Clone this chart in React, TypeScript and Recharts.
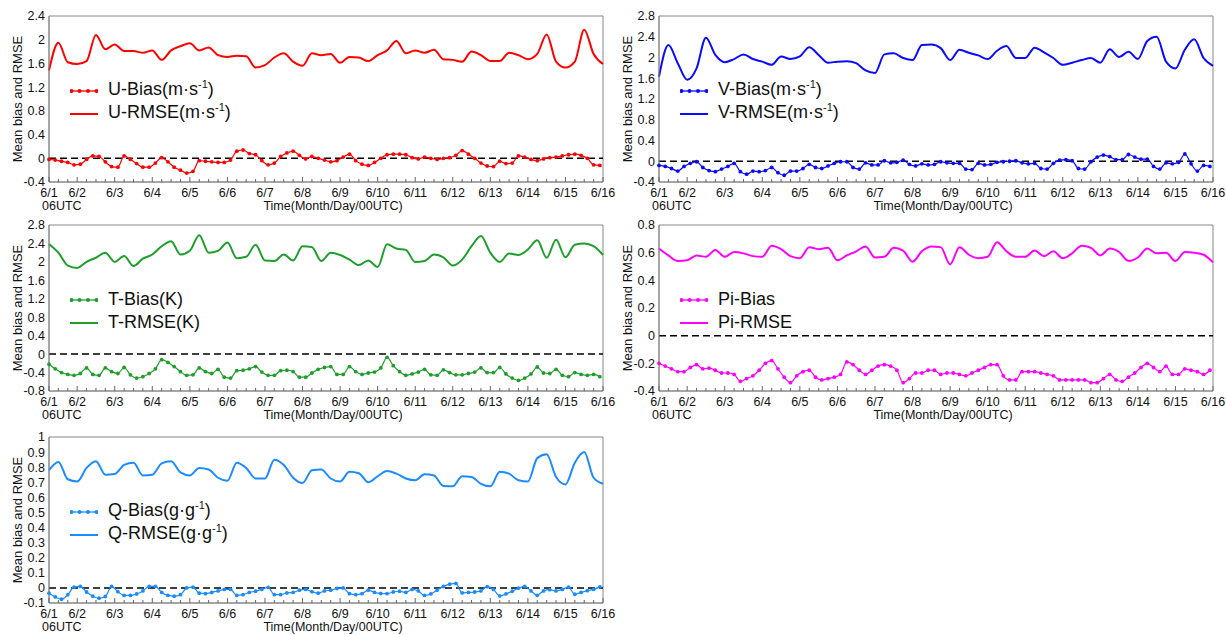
import React from "react";
import { LineChart, Line, XAxis, YAxis, ReferenceLine, ReferenceArea, Legend, Label } from "recharts";

const FONT = '"Liberation Sans", Arial, sans-serif';

// x axis: hours since 6/1 00UTC
const dayLabels = ["6/1", "6/2", "6/3", "6/4", "6/5", "6/6", "6/7", "6/8", "6/9", "6/10", "6/11", "6/12", "6/13", "6/14", "6/15", "6/16"];
const dayHours = [6, 24, 48, 72, 96, 120, 144, 168, 192, 216, 240, 264, 288, 312, 336, 360];
const stepHours = Array.from({ length: 60 }, (_, i) => 6 + 6 * i); // RMSE every 6h
const biasStep = 4; // bias markers every 4h

// U wind
const uRmse = [1.48, 1.95, 1.62, 1.59, 1.64, 2.08, 1.84, 1.92, 1.81, 1.81, 1.78, 1.82, 1.66, 1.82, 1.89, 1.94, 1.82, 1.87, 1.74, 1.71, 1.73, 1.72, 1.53, 1.57, 1.7, 1.77, 1.63, 1.56, 1.77, 1.74, 1.76, 1.61, 1.71, 1.7, 1.64, 1.74, 1.82, 1.98, 1.77, 1.82, 1.78, 1.83, 1.67, 1.66, 1.63, 1.8, 1.74, 1.64, 1.64, 1.78, 1.74, 1.67, 1.76, 2.09, 1.63, 1.53, 1.63, 2.17, 1.76, 1.59];
const uBias = [-0.02, -0.03, -0.05, -0.07, -0.11, -0.1, -0.02, 0.04, 0.03, -0.06, -0.14, -0.15, 0.04, -0.02, -0.09, -0.15, -0.15, -0.08, 0.01, -0.06, -0.15, -0.2, -0.25, -0.22, -0.04, -0.05, -0.06, -0.07, -0.07, -0.03, 0.12, 0.14, 0.08, 0.06, -0.04, -0.11, -0.08, 0.03, 0.09, 0.12, 0.05, -0.01, 0.03, 0.0, -0.03, -0.06, -0.04, 0.02, 0.07, -0.04, -0.1, -0.12, -0.07, 0.0, 0.06, 0.07, 0.07, 0.06, 0.01, -0.01, 0.02, 0.0, -0.02, 0.0, 0.01, 0.05, 0.13, 0.07, 0.0, -0.08, -0.13, -0.14, -0.05, -0.09, -0.08, 0.04, 0.02, -0.02, -0.04, -0.01, 0.01, 0.02, 0.04, 0.06, 0.07, 0.05, 0.0, -0.11, -0.12];
const uTicks = [-0.4, 0, 0.4, 0.8, 1.2, 1.6, 2, 2.4];

// V wind
const vRmse = [1.63, 2.24, 1.89, 1.57, 1.79, 2.38, 2.05, 1.91, 1.97, 2.06, 1.97, 1.92, 1.86, 2.02, 1.97, 2.02, 2.2, 2.05, 1.9, 1.92, 1.93, 1.89, 1.75, 1.7, 2.06, 2.08, 1.99, 1.95, 2.24, 2.25, 2.18, 1.95, 2.15, 2.09, 2.04, 1.97, 2.13, 2.22, 1.99, 1.99, 2.19, 2.1, 1.99, 1.86, 1.9, 1.95, 1.99, 1.9, 2.16, 2.01, 2.11, 1.97, 2.32, 2.4, 1.92, 1.79, 2.15, 2.35, 1.99, 1.84];
const vBias = [-0.08, -0.1, -0.14, -0.19, -0.1, -0.04, -0.01, -0.12, -0.18, -0.2, -0.15, -0.1, -0.04, -0.2, -0.25, -0.19, -0.2, -0.18, -0.12, -0.22, -0.27, -0.19, -0.19, -0.14, -0.06, -0.12, -0.14, -0.09, -0.04, -0.01, -0.01, -0.12, -0.15, -0.03, -0.07, -0.07, 0.01, -0.03, -0.02, 0.02, -0.06, -0.09, -0.05, -0.07, -0.06, -0.01, -0.03, -0.04, -0.04, -0.15, -0.16, -0.04, -0.07, -0.06, -0.02, -0.01, 0.0, 0.01, -0.03, -0.05, -0.04, -0.14, -0.15, -0.04, 0.02, 0.03, 0.01, -0.14, -0.15, -0.01, 0.08, 0.12, 0.09, 0.03, 0.03, 0.13, 0.08, 0.04, 0.04, -0.1, -0.15, -0.03, -0.05, -0.02, 0.14, -0.05, -0.19, -0.08, -0.1];
const vTicks = [-0.4, 0, 0.4, 0.8, 1.2, 1.6, 2, 2.4, 2.8];

// Temperature
const tRmse = [2.39, 2.2, 1.92, 1.87, 2.0, 2.09, 2.2, 2.0, 2.13, 1.91, 2.07, 2.16, 2.34, 2.45, 2.16, 2.24, 2.58, 2.2, 2.24, 2.42, 2.08, 2.11, 2.37, 2.03, 2.02, 2.16, 2.03, 2.34, 2.32, 2.02, 2.2, 2.15, 2.05, 1.93, 2.03, 1.89, 2.38, 2.29, 2.26, 2.0, 2.02, 2.16, 2.1, 1.92, 2.05, 2.34, 2.56, 2.2, 2.0, 2.18, 2.15, 2.27, 2.47, 2.09, 2.48, 2.1, 2.37, 2.4, 2.34, 2.15];
const tBias = [-0.22, -0.32, -0.4, -0.44, -0.46, -0.42, -0.3, -0.44, -0.46, -0.3, -0.38, -0.42, -0.29, -0.45, -0.52, -0.49, -0.42, -0.32, -0.12, -0.18, -0.27, -0.38, -0.46, -0.45, -0.3, -0.38, -0.42, -0.33, -0.5, -0.52, -0.36, -0.35, -0.32, -0.27, -0.39, -0.46, -0.46, -0.36, -0.35, -0.38, -0.5, -0.5, -0.41, -0.33, -0.29, -0.27, -0.44, -0.44, -0.27, -0.38, -0.44, -0.41, -0.39, -0.3, -0.07, -0.25, -0.38, -0.46, -0.43, -0.39, -0.33, -0.45, -0.46, -0.34, -0.4, -0.45, -0.45, -0.42, -0.39, -0.3, -0.4, -0.4, -0.29, -0.43, -0.52, -0.57, -0.52, -0.43, -0.28, -0.41, -0.42, -0.33, -0.46, -0.49, -0.4, -0.44, -0.46, -0.44, -0.49];
const tTicks = [-0.8, -0.4, 0, 0.4, 0.8, 1.2, 1.6, 2, 2.4, 2.8];

// Pi (Exner)
const piRmse = [0.63, 0.58, 0.54, 0.545, 0.58, 0.57, 0.62, 0.57, 0.605, 0.595, 0.575, 0.57, 0.65, 0.625, 0.575, 0.56, 0.64, 0.625, 0.635, 0.545, 0.58, 0.61, 0.645, 0.565, 0.57, 0.635, 0.615, 0.535, 0.61, 0.645, 0.64, 0.515, 0.64, 0.585, 0.56, 0.57, 0.675, 0.61, 0.57, 0.57, 0.615, 0.575, 0.61, 0.56, 0.595, 0.65, 0.635, 0.58, 0.63, 0.605, 0.54, 0.565, 0.63, 0.595, 0.6, 0.54, 0.605, 0.6, 0.585, 0.53];
const piBias = [-0.2, -0.22, -0.24, -0.26, -0.26, -0.23, -0.21, -0.24, -0.235, -0.25, -0.27, -0.27, -0.28, -0.33, -0.31, -0.29, -0.25, -0.2, -0.18, -0.24, -0.3, -0.34, -0.29, -0.26, -0.25, -0.3, -0.32, -0.31, -0.3, -0.28, -0.19, -0.21, -0.25, -0.28, -0.25, -0.22, -0.21, -0.22, -0.25, -0.34, -0.31, -0.27, -0.27, -0.25, -0.25, -0.28, -0.27, -0.27, -0.28, -0.29, -0.27, -0.25, -0.23, -0.21, -0.21, -0.29, -0.32, -0.32, -0.26, -0.26, -0.26, -0.27, -0.28, -0.29, -0.32, -0.32, -0.32, -0.32, -0.32, -0.34, -0.34, -0.31, -0.28, -0.32, -0.33, -0.3, -0.27, -0.23, -0.2, -0.23, -0.26, -0.22, -0.28, -0.28, -0.24, -0.25, -0.26, -0.28, -0.25];
const piTicks = [-0.4, -0.2, 0, 0.2, 0.4, 0.6, 0.8];

// Humidity
const qRmse = [0.78, 0.835, 0.72, 0.705, 0.795, 0.84, 0.75, 0.755, 0.815, 0.83, 0.745, 0.75, 0.825, 0.84, 0.765, 0.745, 0.795, 0.785, 0.73, 0.71, 0.83, 0.795, 0.725, 0.725, 0.85, 0.815, 0.73, 0.695, 0.78, 0.785, 0.725, 0.705, 0.77, 0.76, 0.7, 0.74, 0.775, 0.757, 0.725, 0.713, 0.753, 0.745, 0.675, 0.673, 0.74, 0.735, 0.69, 0.673, 0.77, 0.757, 0.713, 0.705, 0.86, 0.885, 0.735, 0.686, 0.83, 0.9, 0.73, 0.69];
const qBias = [-0.035, -0.06, -0.075, -0.045, 0.005, 0.01, -0.027, -0.055, -0.068, -0.057, 0.01, -0.025, -0.05, -0.05, -0.04, -0.02, 0.01, 0.01, -0.03, -0.05, -0.055, -0.045, 0.0, 0.005, -0.035, -0.038, -0.03, -0.02, -0.01, -0.01, -0.05, -0.045, -0.03, -0.022, -0.01, 0.004, -0.045, -0.045, -0.033, -0.03, -0.015, -0.01, -0.025, -0.035, -0.02, -0.015, -0.004, 0.0, -0.038, -0.045, -0.038, -0.015, -0.03, -0.037, -0.038, -0.027, -0.022, -0.03, -0.01, -0.02, -0.05, -0.04, -0.015, 0.01, 0.025, 0.03, -0.033, -0.03, -0.027, -0.02, 0.008, -0.01, -0.053, -0.04, -0.022, -0.002, 0.01, -0.02, -0.049, -0.02, -0.012, -0.02, -0.01, 0.005, -0.042, -0.03, -0.018, -0.01, 0.007];
const qTicks = [-0.1, 0, 0.1, 0.2, 0.3, 0.4, 0.5, 0.6, 0.7, 0.8, 0.9, 1];

const PLOT_W = 554;
const CHART_H = 214;

function XTick(props: any) {
  const { x, y, payload } = props;
  const h = payload.value;
  const k = dayHours.indexOf(h);
  const major = k >= 0;
  return (
    <g>
      <line x1={x} x2={x} y1={y} y2={y - (major ? 5 : 3)} stroke="#666" strokeWidth={1} />
      {major && (
        <text x={x} y={y + 14.5} textAnchor="middle" fontSize={12.5} fill="#111" fontFamily={FONT}>
          {dayLabels[k]}
        </text>
      )}
      {h === 6 && (
        <text x={x - 7} y={y + 28} textAnchor="start" fontSize={12.5} fill="#111" fontFamily={FONT}>
          06UTC
        </text>
      )}
    </g>
  );
}

function Sup({ children }: { children: React.ReactNode }) {
  return <span style={{ fontSize: 11, position: "relative", top: -7 }}>{children}</span>;
}

function LegendBox({ color, biasName, rmseName }: any) {
  const row = { display: "flex", alignItems: "center", height: 23 };
  return (
    <div style={{ fontFamily: FONT, fontSize: 18, color: "#111", lineHeight: "23px", whiteSpace: "nowrap" }}>
      <div style={row}>
        <svg width={28} height={12}>
          <line x1={0} x2={28} y1={6} y2={6} stroke={color} strokeWidth={1.3} />
          {[1.5, 9.5, 18, 26.5].map((cx) => (
            <circle key={cx} cx={cx} cy={6} r={2} fill={color} />
          ))}
        </svg>
        <span style={{ marginLeft: 10 }}>{biasName}</span>
      </div>
      <div style={row}>
        <svg width={28} height={12}>
          <line x1={0} x2={28} y1={6} y2={6} stroke={color} strokeWidth={2} />
        </svg>
        <span style={{ marginLeft: 10 }}>{rmseName}</span>
      </div>
    </div>
  );
}

type PanelProps = {
  left: number;
  top: number;
  width: number;
  ticks: number[];
  color: string;
  rmse: number[];
  bias: number[];
  biasName: React.ReactNode;
  rmseName: React.ReactNode;
};

function Panel({ left, top, width, ticks, color, rmse, bias, biasName, rmseName }: PanelProps) {
  const rmseData = rmse.map((v, i) => ({ h: stepHours[i], v }));
  const biasData = bias.map((v, j) => ({ h: 6 + biasStep * j, v }));
  const lo = ticks[0];
  const hi = ticks[ticks.length - 1];
  return (
    <div style={{ position: "absolute", left, top }}>
      <LineChart
        width={width}
        height={CHART_H}
        margin={{ top: 16, right: width - 49 - PLOT_W, left: 0, bottom: 2 }}
      >
        <XAxis
          type="number"
          dataKey="h"
          domain={[6, 360]}
          ticks={stepHours}
          interval={0}
          tickSize={0}
          tickMargin={0}
          tickLine={false}
          axisLine={{ stroke: "#888" }}
          height={30}
          tick={<XTick />}
        >
          <Label
            content={() => (
              <text x={49 + PLOT_W / 2 + 7} y={209.5} textAnchor="middle" fontSize={12.5} fill="#111" fontFamily={FONT}>
                Time(Month/Day/00UTC)
              </text>
            )}
          />
        </XAxis>
        <YAxis
          type="number"
          domain={[lo, hi]}
          ticks={ticks}
          interval={0}
          width={49}
          tickSize={0}
          tickMargin={4}
          tickLine={false}
          axisLine={{ stroke: "#888" }}
          tick={{ fontSize: 12.5, fill: "#111", fontFamily: FONT }}
          tickFormatter={(v: number) => String(v)}
        >
          <Label
            content={() => (
              <text
                x={22}
                y={99}
                transform="rotate(-90, 22, 99)"
                textAnchor="middle"
                fontSize={13}
                fill="#111"
                fontFamily={FONT}
              >
                Mean bias and RMSE
              </text>
            )}
          />
        </YAxis>
        <ReferenceArea x1={6} x2={360} y1={lo} y2={hi} fill="none" stroke="#888" strokeWidth={1} />
        <ReferenceLine y={0} stroke="#000" strokeWidth={1.5} strokeDasharray="7 4" />
        <Line
          data={rmseData}
          dataKey="v"
          name="rmse"
          type="monotone"
          stroke={color}
          strokeWidth={2}
          dot={false}
          isAnimationActive={false}
        />
        <Line
          data={biasData}
          dataKey="v"
          name="bias"
          type="monotone"
          stroke={color}
          strokeWidth={1.2}
          dot={{ r: 1.9, fill: color, stroke: color, strokeWidth: 0 }}
          isAnimationActive={false}
        />
        <Legend
          layout="vertical"
          align="center"
          verticalAlign="middle"
          wrapperStyle={{ left: 70, top: 79, width: 240 }}
          content={() => <LegendBox color={color} biasName={biasName} rmseName={rmseName} />}
        />
      </LineChart>
    </div>
  );
}

export default function App() {
  return (
    <div
      style={{
        position: "absolute",
        left: 0,
        top: 0,
        width: 1226,
        height: 635,
        overflow: "hidden",
        background: "#fff",
      }}
    >
      <Panel
        left={0}
        top={0}
        width={620}
        ticks={uTicks}
        color="#ff0000"
        rmse={uRmse}
        bias={uBias}
        biasName={<>U-Bias(m·s<Sup>-1</Sup>)</>}
        rmseName={<>U-RMSE(m·s<Sup>-1</Sup>)</>}
      />
      <Panel
        left={610}
        top={0}
        width={616}
        ticks={vTicks}
        color="#0a0aff"
        rmse={vRmse}
        bias={vBias}
        biasName={<>V-Bias(m·s<Sup>-1</Sup>)</>}
        rmseName={<>V-RMSE(m·s<Sup>-1</Sup>)</>}
      />
      <Panel
        left={0}
        top={209}
        width={620}
        ticks={tTicks}
        color="#1f9e2c"
        rmse={tRmse}
        bias={tBias}
        biasName="T-Bias(K)"
        rmseName="T-RMSE(K)"
      />
      <Panel
        left={610}
        top={209}
        width={616}
        ticks={piTicks}
        color="#ff00ff"
        rmse={piRmse}
        bias={piBias}
        biasName="Pi-Bias"
        rmseName="Pi-RMSE"
      />
      <Panel
        left={0}
        top={421}
        width={620}
        ticks={qTicks}
        color="#1a8cff"
        rmse={qRmse}
        bias={qBias}
        biasName={<>Q-Bias(g·g<Sup>-1</Sup>)</>}
        rmseName={<>Q-RMSE(g·g<Sup>-1</Sup>)</>}
      />
    </div>
  );
}
